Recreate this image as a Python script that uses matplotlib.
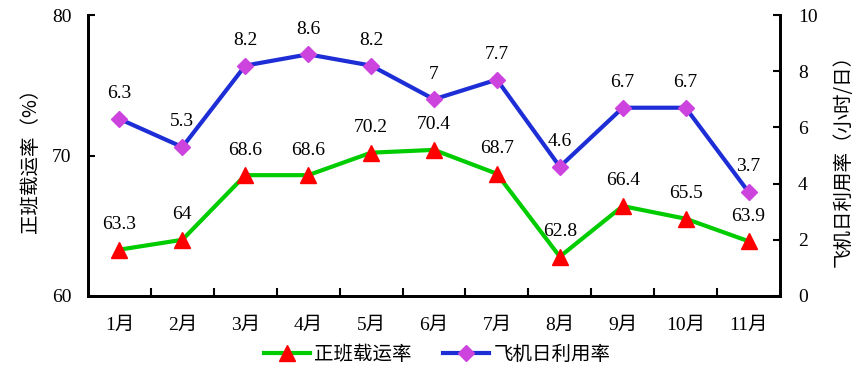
import matplotlib
matplotlib.use("Agg")
import matplotlib.pyplot as plt
from matplotlib.lines import Line2D

plt.rcParams['font.family'] = ['Liberation Serif', 'Noto Sans CJK SC']

months = ['1月', '2月', '3月', '4月', '5月', '6月', '7月', '8月', '9月', '10月', '11月']
load_factor = [63.3, 64, 68.6, 68.6, 70.2, 70.4, 68.7, 62.8, 66.4, 65.5, 63.9]
utilization = [6.3, 5.3, 8.2, 8.6, 8.2, 7, 7.7, 4.6, 6.7, 6.7, 3.7]
load_labels = ['63.3', '64', '68.6', '68.6', '70.2', '70.4', '68.7', '62.8', '66.4', '65.5', '63.9']
util_labels = ['6.3', '5.3', '8.2', '8.6', '8.2', '7', '7.7', '4.6', '6.7', '6.7', '3.7']

green = '#00CC00'
blue = '#1E2ED6'
purple = '#CC44DD'
red = '#FF0000'
cjk = ['Noto Sans CJK SC', 'DejaVu Sans']
fs = 14

fig = plt.figure(figsize=(8.65, 3.84), dpi=100)
ax = fig.add_axes([88/865, 1-296/384, (780-88)/865, (296-15)/384])
ax2 = ax.twinx()

x = list(range(len(months)))
ax.plot(x, load_factor, color=green, lw=3, marker='^', ms=11, mfc=red, mec=red, zorder=3)
ax2.plot(x, utilization, color=blue, lw=3, marker='D', ms=8, mfc=purple, mec=purple, zorder=3)

for xi, v, s in zip(x, load_factor, load_labels):
    ax.annotate(s, (xi, v), xytext=(0, 12), textcoords='offset points', ha='center', va='bottom', fontsize=fs)
for xi, v, s in zip(x, utilization, util_labels):
    ax2.annotate(s, (xi, v), xytext=(0, 12), textcoords='offset points', ha='center', va='bottom', fontsize=fs)

ax.set_xlim(-0.5, len(months) - 0.5)
ax.set_ylim(60, 80)
ax.set_yticks([60, 70, 80])
ax2.set_ylim(0, 10)
ax2.set_yticks([0, 2, 4, 6, 8, 10])

ax.set_xticks([i + 0.5 for i in range(len(months) - 1)], minor=False)
ax.set_xticklabels([])
ax.set_xticks(x, minor=True)
ax.set_xticklabels(months, minor=True, fontsize=fs)
ax.tick_params(axis='x', which='major', direction='in', length=6, width=1.5)
ax.tick_params(axis='x', which='minor', length=0, pad=15)
ax.tick_params(axis='y', direction='in', length=5, width=1.5, labelsize=fs, pad=12)
ax2.tick_params(axis='y', direction='in', length=5, width=1.5, labelsize=fs, pad=13)

for a in (ax, ax2):
    a.spines['top'].set_visible(False)
    for sp in ('left', 'right', 'bottom'):
        a.spines[sp].set_linewidth(2)

ax.set_ylabel('正班载运率（%）', family=cjk, fontsize=fs, labelpad=8)
ax2.set_ylabel('飞机日利用率（小时/日）', family=cjk, fontsize=fs, labelpad=11)

handles = [
    Line2D([], [], color=green, lw=3, marker='^', ms=11, mfc=red, mec=red),
    Line2D([], [], color=blue, lw=3, marker='D', ms=8, mfc=purple, mec=purple),
]
fig.legend(handles, ['正班载运率', '飞机日利用率'], loc='center', bbox_to_anchor=(437/865, 1-354/384),
           ncol=2, frameon=False, prop={'family': cjk, 'size': fs}, handlelength=2.4,
           handletextpad=0.2, columnspacing=1.6)

fig.savefig('out.png', dpi=100)
